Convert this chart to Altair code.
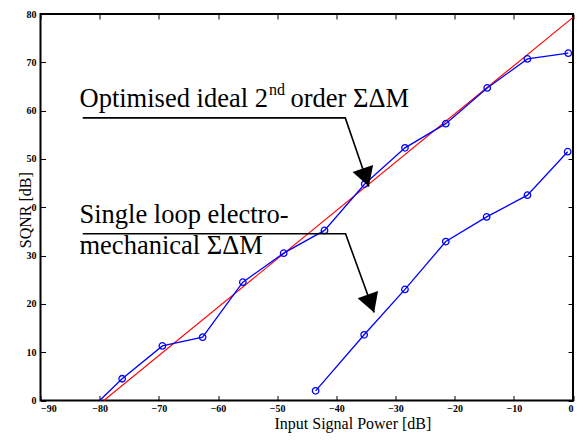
import altair as alt
import pandas as pd

# ---- data ----
ideal_x = [-80.0, -76.2, -69.4, -62.6, -55.8, -48.9, -42.0, -35.2, -28.4, -21.5, -14.5, -7.7, -0.8]
ideal_y = [0.0, 4.5, 11.3, 13.1, 24.5, 30.5, 35.2, 44.8, 52.3, 57.3, 64.7, 70.7, 71.9]
ideal_marker = [False] + [True] * 12

electro_x = [-43.5, -35.3, -28.4, -21.5, -14.6, -7.7, -0.9]
electro_y = [2.0, 13.6, 23.0, 32.9, 38.0, 42.5, 51.5]

theory_x = [-79.3, 0.0]
theory_y = [0.0, 79.3]

x_ticks = list(range(-90, 1, 10))
y_ticks = list(range(0, 81, 10))

# texts
x_title = "Input Signal Power [dB]"
y_title = "SQNR [dB]"
label1_main = "Optimised ideal 2"
label1_sup = "nd"
label1_tail = "order ΣΔM"
label2_lines = ["Single loop electro-", "mechanical ΣΔM"]

# annotation anchors (data units)
arrow_id = [1, 1, 1, 2, 2, 2]
arrow_order = [0, 1, 2, 0, 1, 2]
arrow_x = [-82.86, -38.49, -34.50, -82.86, -38.44, -33.61]
arrow_y = [58.5, 58.5, 44.3, 34.5, 34.5, 18.2]
head_x = [-34.50, -33.61]
head_y = [44.3, 18.2]
head_angle = [341.5, 340.6]

FONT = "Liberation Serif"

ideal_df = pd.DataFrame({"x": ideal_x, "y": ideal_y, "m": ideal_marker})
electro_df = pd.DataFrame({"x": electro_x, "y": electro_y})
theory_df = pd.DataFrame({"x": theory_x, "y": theory_y})
arrow_df = pd.DataFrame({"id": arrow_id, "o": arrow_order, "x": arrow_x, "y": arrow_y})
head_df = pd.DataFrame({"x": head_x, "y": head_y, "a": head_angle})

xs = alt.Scale(domain=[-90, 0], nice=False, zero=False)
ys = alt.Scale(domain=[0, 80], nice=False, zero=False)

x_bottom = alt.Axis(values=x_ticks, orient="bottom", domain=False, tickSize=5, offset=-5,
                    tickColor="black", tickWidth=1, grid=False, labelFont=FONT,
                    labelFontWeight="bold", labelFontSize=10, labelColor="black",
                    labelPadding=3, title=None)
y_left = alt.Axis(values=y_ticks, orient="left", domain=False, tickSize=5, offset=-5,
                  tickColor="black", tickWidth=1, grid=False, labelFont=FONT,
                  labelFontWeight="bold", labelFontSize=10, labelColor="black",
                  labelPadding=4.5, labelExpr="datum.value == 40 ? '0' : datum.label",
                  title=None)
x_top = alt.Axis(values=x_ticks, orient="top", domain=False, tickSize=5, offset=-5,
                 tickColor="black", tickWidth=1, grid=False, labels=False, title=None)
y_right = alt.Axis(values=y_ticks, orient="right", domain=False, tickSize=5, offset=-5,
                   tickColor="black", tickWidth=1, grid=False, labels=False, title=None)

X = lambda ax=None: alt.X("x:Q", scale=xs, axis=ax)
Y = lambda ax=None: alt.Y("y:Q", scale=ys, axis=ax)

theory = alt.Chart(theory_df).mark_line(color="#ff0000", strokeWidth=1.1).encode(
    x=X(x_bottom), y=Y(y_left))

ideal_line = alt.Chart(ideal_df).mark_line(color="#0000ff", strokeWidth=1.3).encode(
    x=X(x_top), y=Y(y_right))

ideal_pts = alt.Chart(ideal_df).transform_filter("datum.m").mark_point(
    shape="circle", filled=False, size=42, color="#0000ff", strokeWidth=1.3, opacity=1
).encode(x=X(), y=Y())

electro_line = alt.Chart(electro_df).mark_line(color="#0000ff", strokeWidth=1.3).encode(
    x=X(), y=Y())
electro_pts = alt.Chart(electro_df).mark_point(
    shape="circle", filled=False, size=42, color="#0000ff", strokeWidth=1.3, opacity=1
).encode(x=X(), y=Y())

arrows = alt.Chart(arrow_df).mark_line(color="black", strokeWidth=1.6).encode(
    x=X(), y=Y(), detail="id:N", order="o:Q")
heads = alt.Chart(head_df).mark_point(
    shape="M0,0L-0.57,-1L0.57,-1Z", filled=True, color="black", size=1444, opacity=1,
    strokeWidth=0
).encode(x=X(), y=Y(), angle=alt.Angle("a:Q", scale=None))


def txt(text, x, y, size, align="left", angle=0):
    d = pd.DataFrame({"t": [text], "x": [x], "y": [y]})
    return alt.Chart(d).mark_text(align=align, baseline="alphabetic", font=FONT,
                                  fontSize=size, color="black", angle=angle).encode(
        x=X(), y=Y(), text="t:N")


texts = [
    txt(label1_main, -83.41, 60.66, 26.5),
    txt(label1_sup, -51.38, 63.2, 16),
    txt(label1_tail, -47.75, 60.66, 26.5),
    txt(label2_lines[0], -83.41, 36.66, 26.5),
    txt(label2_lines[1], -83.41, 30.34, 26.5),
    txt(x_title, -37.2, -6.0, 16, align="center"),
    txt(y_title, -91.55, 39.4, 16, align="center", angle=270),
]

chart = alt.layer(theory, ideal_line, ideal_pts, electro_line, electro_pts, arrows, heads,
                  *texts).resolve_axis(x="independent", y="independent").properties(
    width=532.5, height=386.5,
    autosize=alt.AutoSizeParams(type="none"),
    padding={"left": 32.5, "top": 6, "right": 2, "bottom": 32.5},
    background="white",
).configure_view(stroke="black", strokeWidth=2)

chart.save("out.html", embed_options={"renderer": "svg", "actions": False})
